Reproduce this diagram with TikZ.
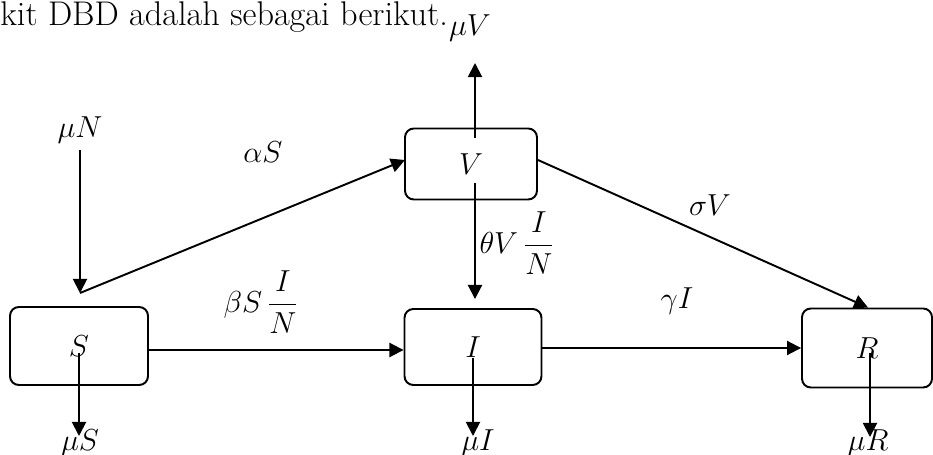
\documentclass[tikz,border=0pt]{standalone}
\usepackage{amsmath,amssymb}
\usepackage{tikz}
\usetikzlibrary{arrows.meta,positioning,calc}

\begin{document}
\begin{tikzpicture}[
        x=0.02cm, y=-0.02cm,
        compartment/.style={draw, line width=1.1pt, rounded corners=5pt,
          inner sep=0pt, font=\fontsize{16}{19}\selectfont},
        rate/.style={font=\fontsize{16}{19}\selectfont, inner sep=1pt},
        flow/.style={line width=1.1pt, -{Triangle[length=8pt,width=8pt]}},
        >=Stealth
      ]
        \useasboundingbox (0,0) rectangle (933,455);
        \clip (0,0) rectangle (933,455);

        % Line of text above the diagram
        \node[anchor=base west, inner sep=0pt, font=\fontsize{19.5}{23}\selectfont] (intro) at (0,26) {kit DBD adalah sebagai berikut.};

        % Compartments
        \node[compartment, minimum width=2.76cm, minimum height=1.56cm] (S) at (79,346) {$S$};
        \node[compartment, minimum width=2.64cm, minimum height=1.42cm] (V) at (471,164) {$V$};
        \node[compartment, minimum width=2.74cm, minimum height=1.52cm] (I) at (473,347) {$I$};
        \node[compartment, minimum width=2.60cm, minimum height=1.58cm] (R) at (867,348) {$R$};

        % Free ends of the flows
        \coordinate (nIn) at (80,150);
        \coordinate (sTop) at (80,293);
        \coordinate (vOut) at (475,63);
        \coordinate (vIn) at (405,160);
        \coordinate (sOut) at (79,436);
        \coordinate (iOut) at (473,436);
        \coordinate (rOut) at (870,437);

        % Recruitment and vaccination
        \draw[flow] (nIn) -- (sTop);
        \draw[flow] (sTop) -- (vIn);
        \node[rate] (muN) at (80,130) {$\mu N$};
        \node[rate] (aS) at (263,152) {$\alpha S$};

        % Infection
        \draw[flow] (S.east |- 0,350) -- (I.west |- 0,350);
        \node[rate] (bS) at (261,302) {$\displaystyle\beta S\,\frac{I}{N}$};
        \draw[flow] ($(V.center)+(4,19)$) -- ($(I.north)+(2,-9)$);
        \node[rate] (tV) at (517,243) {$\displaystyle\theta V\,\frac{I}{N}$};

        % Recovery
        \draw[flow] (I.east |- 0,348) -- (R.west |- 0,348);
        \node[rate] (gI) at (677,301) {$\gamma I$};
        \draw[flow] (V.east |- 0,160) -- ($(R.north)+(1,0)$);
        \node[rate] (sV) at (710,205) {$\sigma V$};

        % Natural death
        \draw[flow] ($(V.center)+(4,-26)$) -- (vOut);
        \node[rate] (muV) at (470,28) {$\mu V$};
        \draw[flow] ($(S.center)+(0,7)$) -- (sOut);
        \node[rate] (muS) at (80,443) {$\mu S$};
        \draw[flow] ($(I.center)+(0,11)$) -- (iOut);
        \node[rate] (muI) at (478,443) {$\mu I$};
        \draw[flow] ($(R.center)+(3,5)$) -- (rOut);
        \node[rate] (muR) at (868,443) {$\mu R$};
      \end{tikzpicture}
\end{document}
